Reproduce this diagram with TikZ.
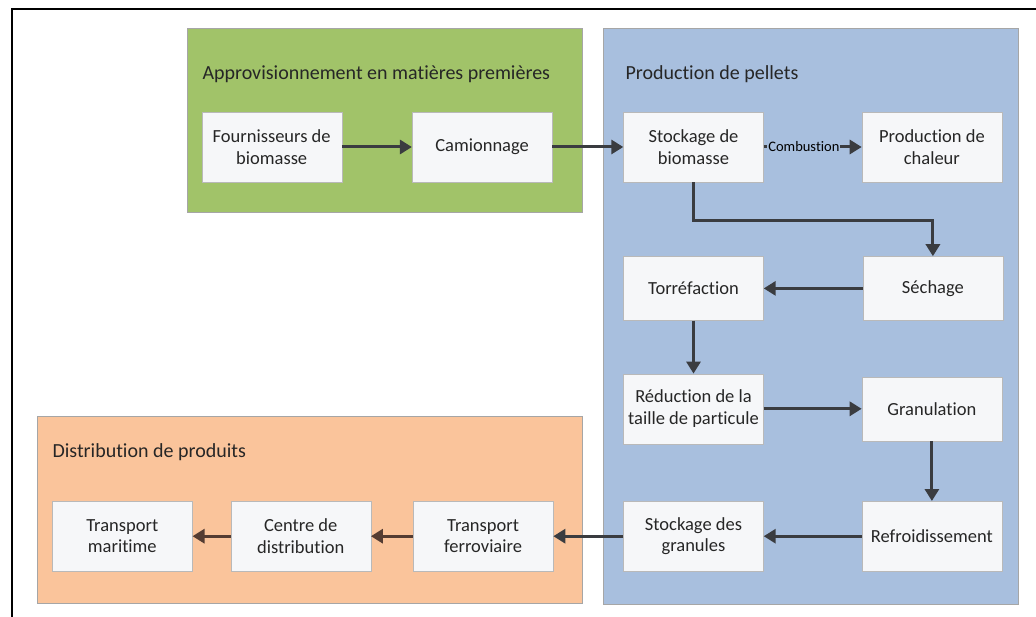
\documentclass[tikz,border=0pt]{standalone}
\usepackage{fontspec}
\setmainfont{Carlito}[Ligatures=NoCommon]
\usetikzlibrary{positioning,arrows.meta}

\definecolor{greengrp}{RGB}{161,195,105}
\definecolor{bluegrp}{RGB}{168,191,222}
\definecolor{orangegrp}{RGB}{250,196,155}
\definecolor{boxfill}{RGB}{246,247,249}
\definecolor{arrowgray}{RGB}{58,60,64}
\definecolor{arrowbrown}{RGB}{84,60,50}

\begin{document}
\begin{tikzpicture}[->,>={Triangle[length=12pt,width=14pt]},
  x=1pt,y=1pt,align=center,
  stepbox/.style={rectangle,draw=gray!55,fill=boxfill,text=black!85,
    minimum width=140pt,minimum height=70pt,inner sep=2pt,
    font=\fontsize{18.5}{21.5}\selectfont},
  flat/.style={stepbox,minimum height=64pt},
  grptitle/.style={anchor=west,text=black!85,font=\fontsize{20}{24}\selectfont},
  link/.style={line width=3pt,draw=arrowgray},
  ]

  \useasboundingbox (0,0) rectangle (1036,-617);
  \draw[-,line width=2.5pt] (12,-617) |- (1036,-9);

  % groupes
  \draw[-,draw=gray!70,fill=greengrp] (187,-28) rectangle (582,-212);
  \draw[-,draw=gray!70,fill=bluegrp] (603,-28) rectangle (1018,-604);
  \draw[-,draw=gray!70,fill=orangegrp] (37,-416) rectangle (582,-603);

  \node[grptitle] (tappro) at (199,-74) {Approvisionnement en matières premières};
  \node[grptitle] (tprod) at (622,-74) {Production de pellets};
  \node[grptitle] (tdistrib) at (49,-452) {Distribution de produits};

  % etapes
  \node[stepbox] (stockbio) at (693.5,-147) {Stockage de\\biomasse};
  \node[stepbox,left=71pt of stockbio] (camion) {Camionnage};
  \node[stepbox,left=70pt of camion] (fournisseurs) {Fournisseurs de\\biomasse};
  \node[stepbox,right=98pt of stockbio] (chaleur) {Production de\\chaleur};
  \node[flat,below=74pt of stockbio] (torref) {Torréfaction};
  \node[flat,right=99pt of torref] (sechage) {Séchage};
  \node[stepbox,below=53pt of torref] (reduction) {Réduction de la\\taille de particule};
  \node[flat,right=98pt of reduction] (granul) {Granulation};
  \node[stepbox,below=57pt of reduction] (stockgran) {Stockage des\\granules};
  \node[stepbox,right=98pt of stockgran] (refroid) {Refroidissement};
  \node[stepbox,left=70pt of stockgran] (ferro) {Transport\\ferroviaire};
  \node[stepbox,left=42pt of ferro] (centre) {Centre de\\distribution};
  \node[stepbox,left=38pt of centre] (maritime) {Transport\\maritime};

  \draw[link] (fournisseurs) -- (camion);
  \draw[link] (camion) -- (stockbio);
  \draw[link] (stockbio) -- node[pos=0.41,fill=bluegrp,inner sep=1pt,
    font=\fontsize{14.5}{16}\selectfont] (combust) {Combustion} (chaleur);
  \draw[link] (stockbio.south) -- ++(0,-38) -| (sechage.north);
  \draw[link] (sechage) -- (torref);
  \draw[link] (torref) -- (reduction);
  \draw[link] (reduction) -- (granul);
  \draw[link] (granul) -- (refroid);
  \draw[link] (refroid) -- (stockgran);
  \draw[link] (stockgran) -- (ferro);
  \draw[link,draw=arrowbrown] (ferro) -- (centre);
  \draw[link,draw=arrowbrown] (centre) -- (maritime);
\end{tikzpicture}
\end{document}
